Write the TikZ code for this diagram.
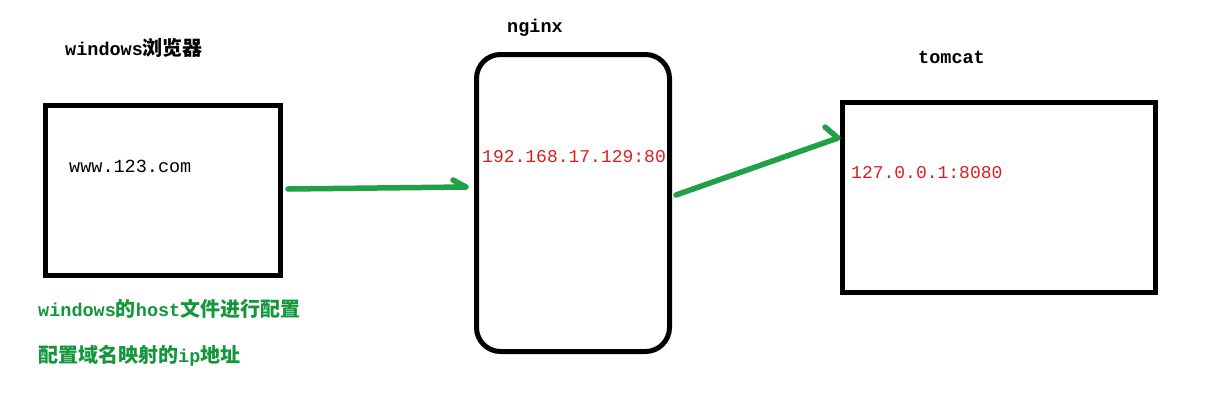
\documentclass[tikz,border=0pt]{standalone}
\usepackage{fontspec}
\setmonofont{Liberation Mono}
\newfontfamily\cjkfont{Noto Sans CJK SC}
\newcommand\cjtxt[1]{{\cjkfont\fontsize{20}{21}\selectfont #1}}
\definecolor{arrgreen}{RGB}{34,160,72}
\definecolor{txtgreen}{RGB}{20,150,60}
\definecolor{txtred}{RGB}{222,30,30}
\tikzset{
  box/.style={draw=black, line width=5pt, inner sep=0pt, fill=white},
  lbl/.style={inner sep=0pt, anchor=west, font=\ttfamily\fontsize{18.5}{20}\selectfont},
  title/.style={lbl, font=\ttfamily\bfseries\fontsize{18.5}{20}\selectfont},
  redlbl/.style={lbl, text=txtred, font=\ttfamily\fontsize{18}{20}\selectfont},
  greenlbl/.style={title, text=txtgreen},
  garrow/.style={draw=arrgreen, line width=5.5pt, line cap=round, line join=round}
}
\begin{document}
\begin{tikzpicture}[x=1pt,y=-1pt]
\useasboundingbox (0,0) rectangle (1226,407);
\fill[white] (0,0) rectangle (1226,407);

% boxes
\node[box, minimum width=235pt, minimum height=170pt] (browser) at (162.5,190) {};
\node[box, rounded corners=24pt, minimum width=193pt, minimum height=297pt] (nginx) at (573,203) {};
\node[box, minimum width=313pt, minimum height=190pt] (tomcat) at (999,197.5) {};

% titles
\node[title] (tbrowser) at (65,48) {windows\cjtxt{浏览器}};
\node[title] (tnginx) at (507,28) {nginx};
\node[title] (ttomcat) at (918,57) {tomcat};

% inner labels
\node[lbl] (url) at (69,166) {www.123.com};
\node[redlbl] (nginxip) at (482,157) {192.168.17.129:80};
\node[redlbl] (tomcatip) at (851,173) {127.0.0.1:8080};

% green notes
\node[greenlbl] (note1) at (38,309) {windows\cjtxt{的}host\cjtxt{文件进行配置}};
\node[greenlbl] (note2) at (38,356) {\cjtxt{配置域名映射的}ip\cjtxt{地址}};

% arrows
\coordinate (a1s) at (288,189);
\coordinate (a1e) at (466,187);
\coordinate (a1b) at (453,180);
\coordinate (a2s) at (676,195);
\coordinate (a2e) at (838,138);
\coordinate (a2b) at (825,127);
\draw[garrow] (a1s) -- (a1e) -- (a1b);
\draw[garrow] (a2s) -- (a2e) -- (a2b);
\end{tikzpicture}
\end{document}
